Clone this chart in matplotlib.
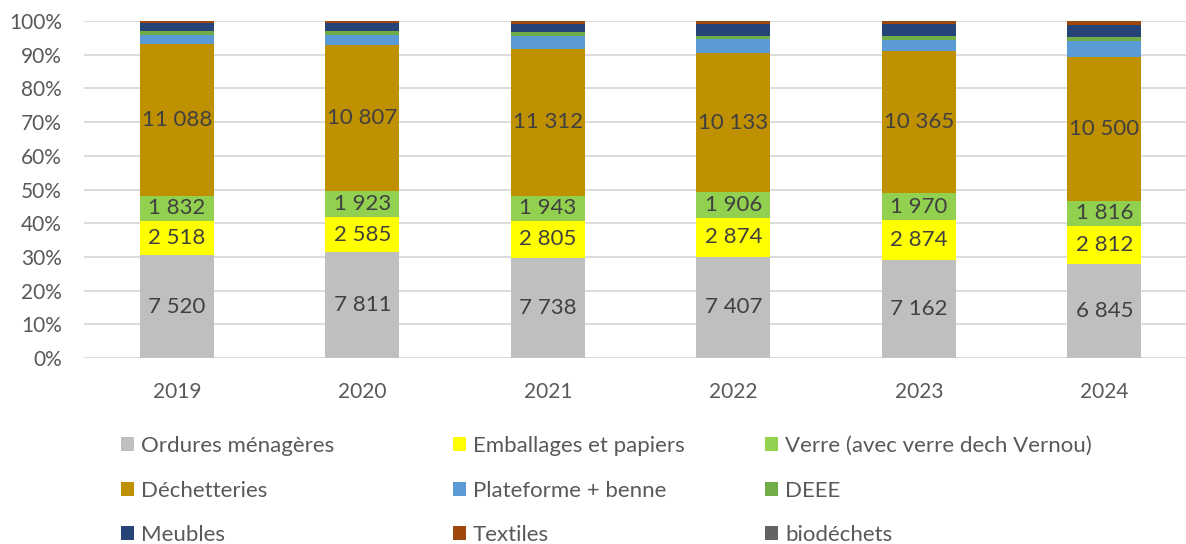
import numpy as np
import matplotlib
matplotlib.use("Agg")
import matplotlib.pyplot as plt
from matplotlib.patches import Patch

plt.rcParams['font.family'] = ['Lato', 'DejaVu Sans']

years = ['2019', '2020', '2021', '2022', '2023', '2024']

# tonnages par flux
ordures = [7520, 7811, 7738, 7407, 7162, 6845]
emballages = [2518, 2585, 2805, 2874, 2874, 2812]
verre = [1832, 1923, 1943, 1906, 1970, 1816]
dechetteries = [11088, 10807, 11312, 10133, 10365, 10500]
plateforme = [610, 787, 990, 1025, 850, 1220]
deee = [320, 272, 310, 270, 292, 293]
meubles = [560, 566, 640, 880, 875, 877]
textiles = [170, 169, 210, 198, 197, 270]
biodechets = [0, 0, 0, 0, 0, 0]

series_names = ['Ordures ménagères', 'Emballages et papiers', 'Verre (avec verre dech Vernou)',
                'Déchetteries', 'Plateforme + benne', 'DEEE',
                'Meubles', 'Textiles', 'biodéchets']
series = [ordures, emballages, verre, dechetteries, plateforme, deee, meubles, textiles, biodechets]
colors = ['#BFBFBF', '#FFFF00', '#92D050', '#BF9000', '#5B9BD5', '#70AD47',
          '#264478', '#9E480E', '#636363']
labelled = [True, True, True, True, False, False, False, False, False]

data = np.array(series, dtype=float)
totals = data.sum(axis=0)
pct = data / totals * 100

fig = plt.figure(figsize=(11.86, 5.44), dpi=100)
ax = fig.add_axes([84 / 1186, 186 / 544, 1102 / 1186, 337 / 544])

x = np.arange(len(years))
bottom = np.zeros(len(years))
for vals, p, col, lab in zip(series, pct, colors, labelled):
    ax.bar(x, p, 0.4, bottom=bottom, color=col, zorder=2)
    if lab:
        for xi, b, h, v in zip(x, bottom, p, vals):
            ax.text(xi, b + h / 2, f"{v:,}".replace(",", " "), ha='center', va='center',
                    fontsize=16, color='#404040', zorder=3)
    bottom += p

ax.set_xlim(-0.5, 5.44)
ax.set_ylim(0, 100)
ax.set_yticks(np.arange(0, 101, 10))
ax.set_yticklabels([f"{v}%" for v in range(0, 101, 10)])
ax.set_xticks(x)
ax.set_xticklabels(years)
ax.tick_params(length=0, labelsize=15, labelcolor='#595959')
ax.tick_params(axis='x', pad=17)
ax.tick_params(axis='y', pad=16)
ax.grid(axis='y', color='#D9D9D9', linewidth=1.3, zorder=0)
for s in ax.spines.values():
    s.set_visible(False)

# légende en trois colonnes, ordre par ligne
cols_x = [110 / 1186, 442 / 1186, 754 / 1186]
for c in range(3):
    handles = [Patch(facecolor=colors[c + 3 * r], label=series_names[c + 3 * r]) for r in range(3)]
    fig.legend(handles=handles, loc='upper left', bbox_to_anchor=(cols_x[c], 119 / 544),
               frameon=False, fontsize=16, labelcolor='#595959', handlelength=0.6,
               handleheight=0.6, handletextpad=0.3, labelspacing=1.1, borderpad=0)

fig.savefig('out.png', dpi=100)
